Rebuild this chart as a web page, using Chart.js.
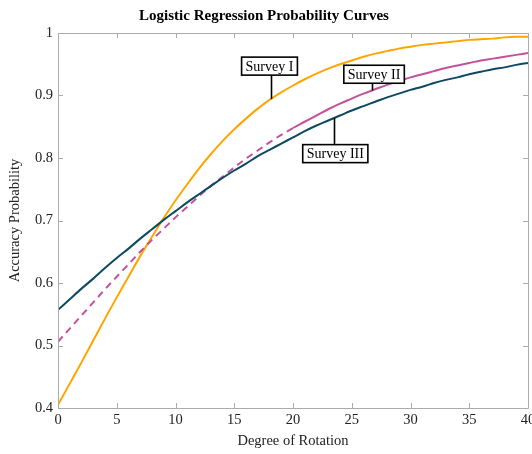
<!DOCTYPE html>
<html>
<head>
<meta charset="utf-8">
<script src="https://cdn.jsdelivr.net/npm/chart.js@4.4.1/dist/chart.umd.min.js"></script>
<style>
  html, body { margin: 0; padding: 0; background: #fff; }
  #wrap { width: 532px; height: 454px; }
</style>
</head>
<body>
<div id="wrap"><canvas id="c" width="532" height="454"></canvas></div>
<script>
// ---- Data ----
const degrees = [0,1,2,3,4,5,6,7,8,9,10,11,12,13,14,15,16,17,18,19,20,21,22,23,24,25,26,27,28,29,30,31,32,33,34,35,36,37,38,39,40];
const surveyI = [0.405,0.439,0.473,0.508,0.543,0.577,0.610,0.643,0.674,0.704,0.732,0.758,0.783,0.806,0.827,0.846,0.863,0.879,0.893,0.905,0.916,0.926,0.935,0.943,0.950,0.956,0.962,0.967,0.971,0.975,0.978,0.981,0.983,0.985,0.987,0.989,0.990,0.991,0.993,0.994,0.994];
const surveyII = [0.506,0.527,0.548,0.569,0.590,0.610,0.630,0.650,0.669,0.687,0.705,0.722,0.739,0.755,0.770,0.785,0.799,0.812,0.825,0.837,0.848,0.858,0.868,0.878,0.887,0.895,0.903,0.910,0.917,0.923,0.929,0.934,0.939,0.944,0.948,0.952,0.956,0.959,0.962,0.965,0.968];
const surveyIII = [0.557,0.574,0.591,0.607,0.624,0.640,0.655,0.671,0.686,0.701,0.715,0.729,0.742,0.755,0.768,0.780,0.791,0.803,0.813,0.823,0.833,0.843,0.852,0.860,0.868,0.876,0.883,0.890,0.897,0.903,0.909,0.914,0.920,0.925,0.929,0.934,0.938,0.942,0.945,0.949,0.952];
const seriesNames = ['Survey I', 'Survey II', 'Survey III'];
const xTicks = [0,5,10,15,20,25,30,35,40];
const yTicks = [0.4,0.5,0.6,0.7,0.8,0.9,1];
const yTickLabels = ['0.4','0.5','0.6','0.7','0.8','0.9','1'];
const dashedUntil = 20; // Survey II is dashed below this degree

const FONT = "'Liberation Serif', 'Times New Roman', serif";
const colors = ['#FFA500', '#C4529A', '#0D4A62'];

function pts(vals) { return degrees.map((d, i) => ({ x: d, y: vals[i] })); }

// Annotation callouts (label, box centre in data units, leader line x, series index)
const callouts = [
  { text: seriesNames[0], bx: 18.0, by: 0.947, lx: 18.1, s: 0 },
  { text: seriesNames[1], bx: 26.9, by: 0.934, lx: 26.7, s: 1 },
  { text: seriesNames[2], bx: 23.6, by: 0.807, lx: 23.5, s: 2 }
];
const allSeries = [surveyI, surveyII, surveyIII];
function valueAt(vals, x) {
  const i = Math.min(degrees.length - 2, Math.max(0, Math.floor(x)));
  const t = (x - degrees[i]) / (degrees[i + 1] - degrees[i]);
  return vals[i] + t * (vals[i + 1] - vals[i]);
}

const framePlugin = {
  id: 'frame',
  afterDatasetsDraw(chart) {
    const ctx = chart.ctx, a = chart.chartArea;
    const xs = chart.scales.x, ys = chart.scales.y;
    ctx.save();
    ctx.strokeStyle = '#ababab';
    ctx.lineWidth = 1;
    ctx.beginPath();
    ctx.rect(Math.round(a.left) + 0.5, Math.round(a.top) + 0.5, Math.round(a.right - a.left), Math.round(a.bottom - a.top));
    ctx.stroke();
    const L = 5;
    ctx.beginPath();
    xTicks.forEach(v => {
      const px = Math.round(xs.getPixelForValue(v)) + 0.5;
      ctx.moveTo(px, a.bottom); ctx.lineTo(px, a.bottom - L);
      ctx.moveTo(px, a.top); ctx.lineTo(px, a.top + L);
    });
    yTicks.forEach(v => {
      const py = Math.round(ys.getPixelForValue(v)) + 0.5;
      ctx.moveTo(a.left, py); ctx.lineTo(a.left + L, py);
      ctx.moveTo(a.right, py); ctx.lineTo(a.right - L, py);
    });
    ctx.stroke();
    ctx.restore();

    // callouts
    ctx.save();
    ctx.font = '14px ' + FONT;
    ctx.textAlign = 'center';
    ctx.textBaseline = 'middle';
    callouts.forEach(c => {
      const bx = xs.getPixelForValue(c.bx), by = ys.getPixelForValue(c.by);
      const lx = Math.round(xs.getPixelForValue(c.lx)) + 0.5;
      const ly = ys.getPixelForValue(valueAt(allSeries[c.s], c.lx));
      const w = ctx.measureText(c.text).width + 8, h = 18;
      ctx.strokeStyle = '#000';
      ctx.lineWidth = 1.6;
      ctx.beginPath();
      const edge = ly > by ? by + h / 2 : by - h / 2;
      ctx.moveTo(lx, edge); ctx.lineTo(lx, ly);
      ctx.stroke();
      ctx.fillStyle = '#fff';
      ctx.fillRect(bx - w / 2, by - h / 2, w, h);
      ctx.strokeRect(bx - w / 2, by - h / 2, w, h);
      ctx.fillStyle = '#000';
      ctx.fillText(c.text, bx, by + 1);
    });
    ctx.restore();
  }
};

const lineCommon = { borderWidth: 2, pointRadius: 0, fill: false, cubicInterpolationMode: 'monotone' };

new Chart(document.getElementById('c'), {
  type: 'line',
  data: {
    datasets: [
      Object.assign({ label: seriesNames[2], data: pts(surveyIII), borderColor: colors[2] }, lineCommon),
      Object.assign({ label: seriesNames[1], data: pts(surveyII), borderColor: colors[1],
        segment: { borderDash: ctx => (ctx.p0.parsed.x < dashedUntil ? [7, 5] : undefined) } }, lineCommon),
      Object.assign({ label: seriesNames[0], data: pts(surveyI), borderColor: colors[0] }, lineCommon)
    ]
  },
  options: {
    responsive: false,
    animation: false,
    devicePixelRatio: 1,
    layout: { padding: { left: 0, right: 4, top: 0, bottom: 0 } },
    plugins: {
      legend: { display: false },
      tooltip: { enabled: false },
      title: {
        display: true,
        text: 'Logistic Regression Probability Curves',
        color: '#000',
        font: { family: FONT, size: 15, weight: 'bold' },
        padding: { top: 7, bottom: 8 }
      }
    },
    scales: {
      x: {
        type: 'linear',
        min: 0, max: 40,
        afterBuildTicks: s => { s.ticks = xTicks.map(v => ({ value: v })); },
        afterFit: s => { s.height = 46; s.paddingLeft = 0; s.paddingRight = 0; },
        grid: { display: false, drawTicks: false },
        border: { display: false },
        ticks: { color: '#222', font: { family: FONT, size: 14.5 }, padding: 3, maxRotation: 0, autoSkip: false,
          callback: v => String(v) },
        title: { display: true, text: 'Degree of Rotation', color: '#222', font: { family: FONT, size: 14.5 }, padding: { top: 4, bottom: 4 } }
      },
      y: {
        type: 'linear',
        min: 0.4, max: 1,
        afterBuildTicks: s => { s.ticks = yTicks.map(v => ({ value: v })); },
        afterFit: s => { s.width = 58; s.paddingTop = 0; s.paddingBottom = 0; },
        grid: { display: false, drawTicks: false },
        border: { display: false },
        ticks: { color: '#222', font: { family: FONT, size: 14.5 }, padding: 5, autoSkip: false,
          callback: v => yTickLabels[yTicks.findIndex(t => Math.abs(t - v) < 1e-9)] },
        title: { display: true, text: 'Accuracy Probability', color: '#222', font: { family: FONT, size: 14.5 }, padding: { top: 6, bottom: 4 } }
      }
    }
  },
  plugins: [framePlugin]
});
</script>
</body>
</html>
